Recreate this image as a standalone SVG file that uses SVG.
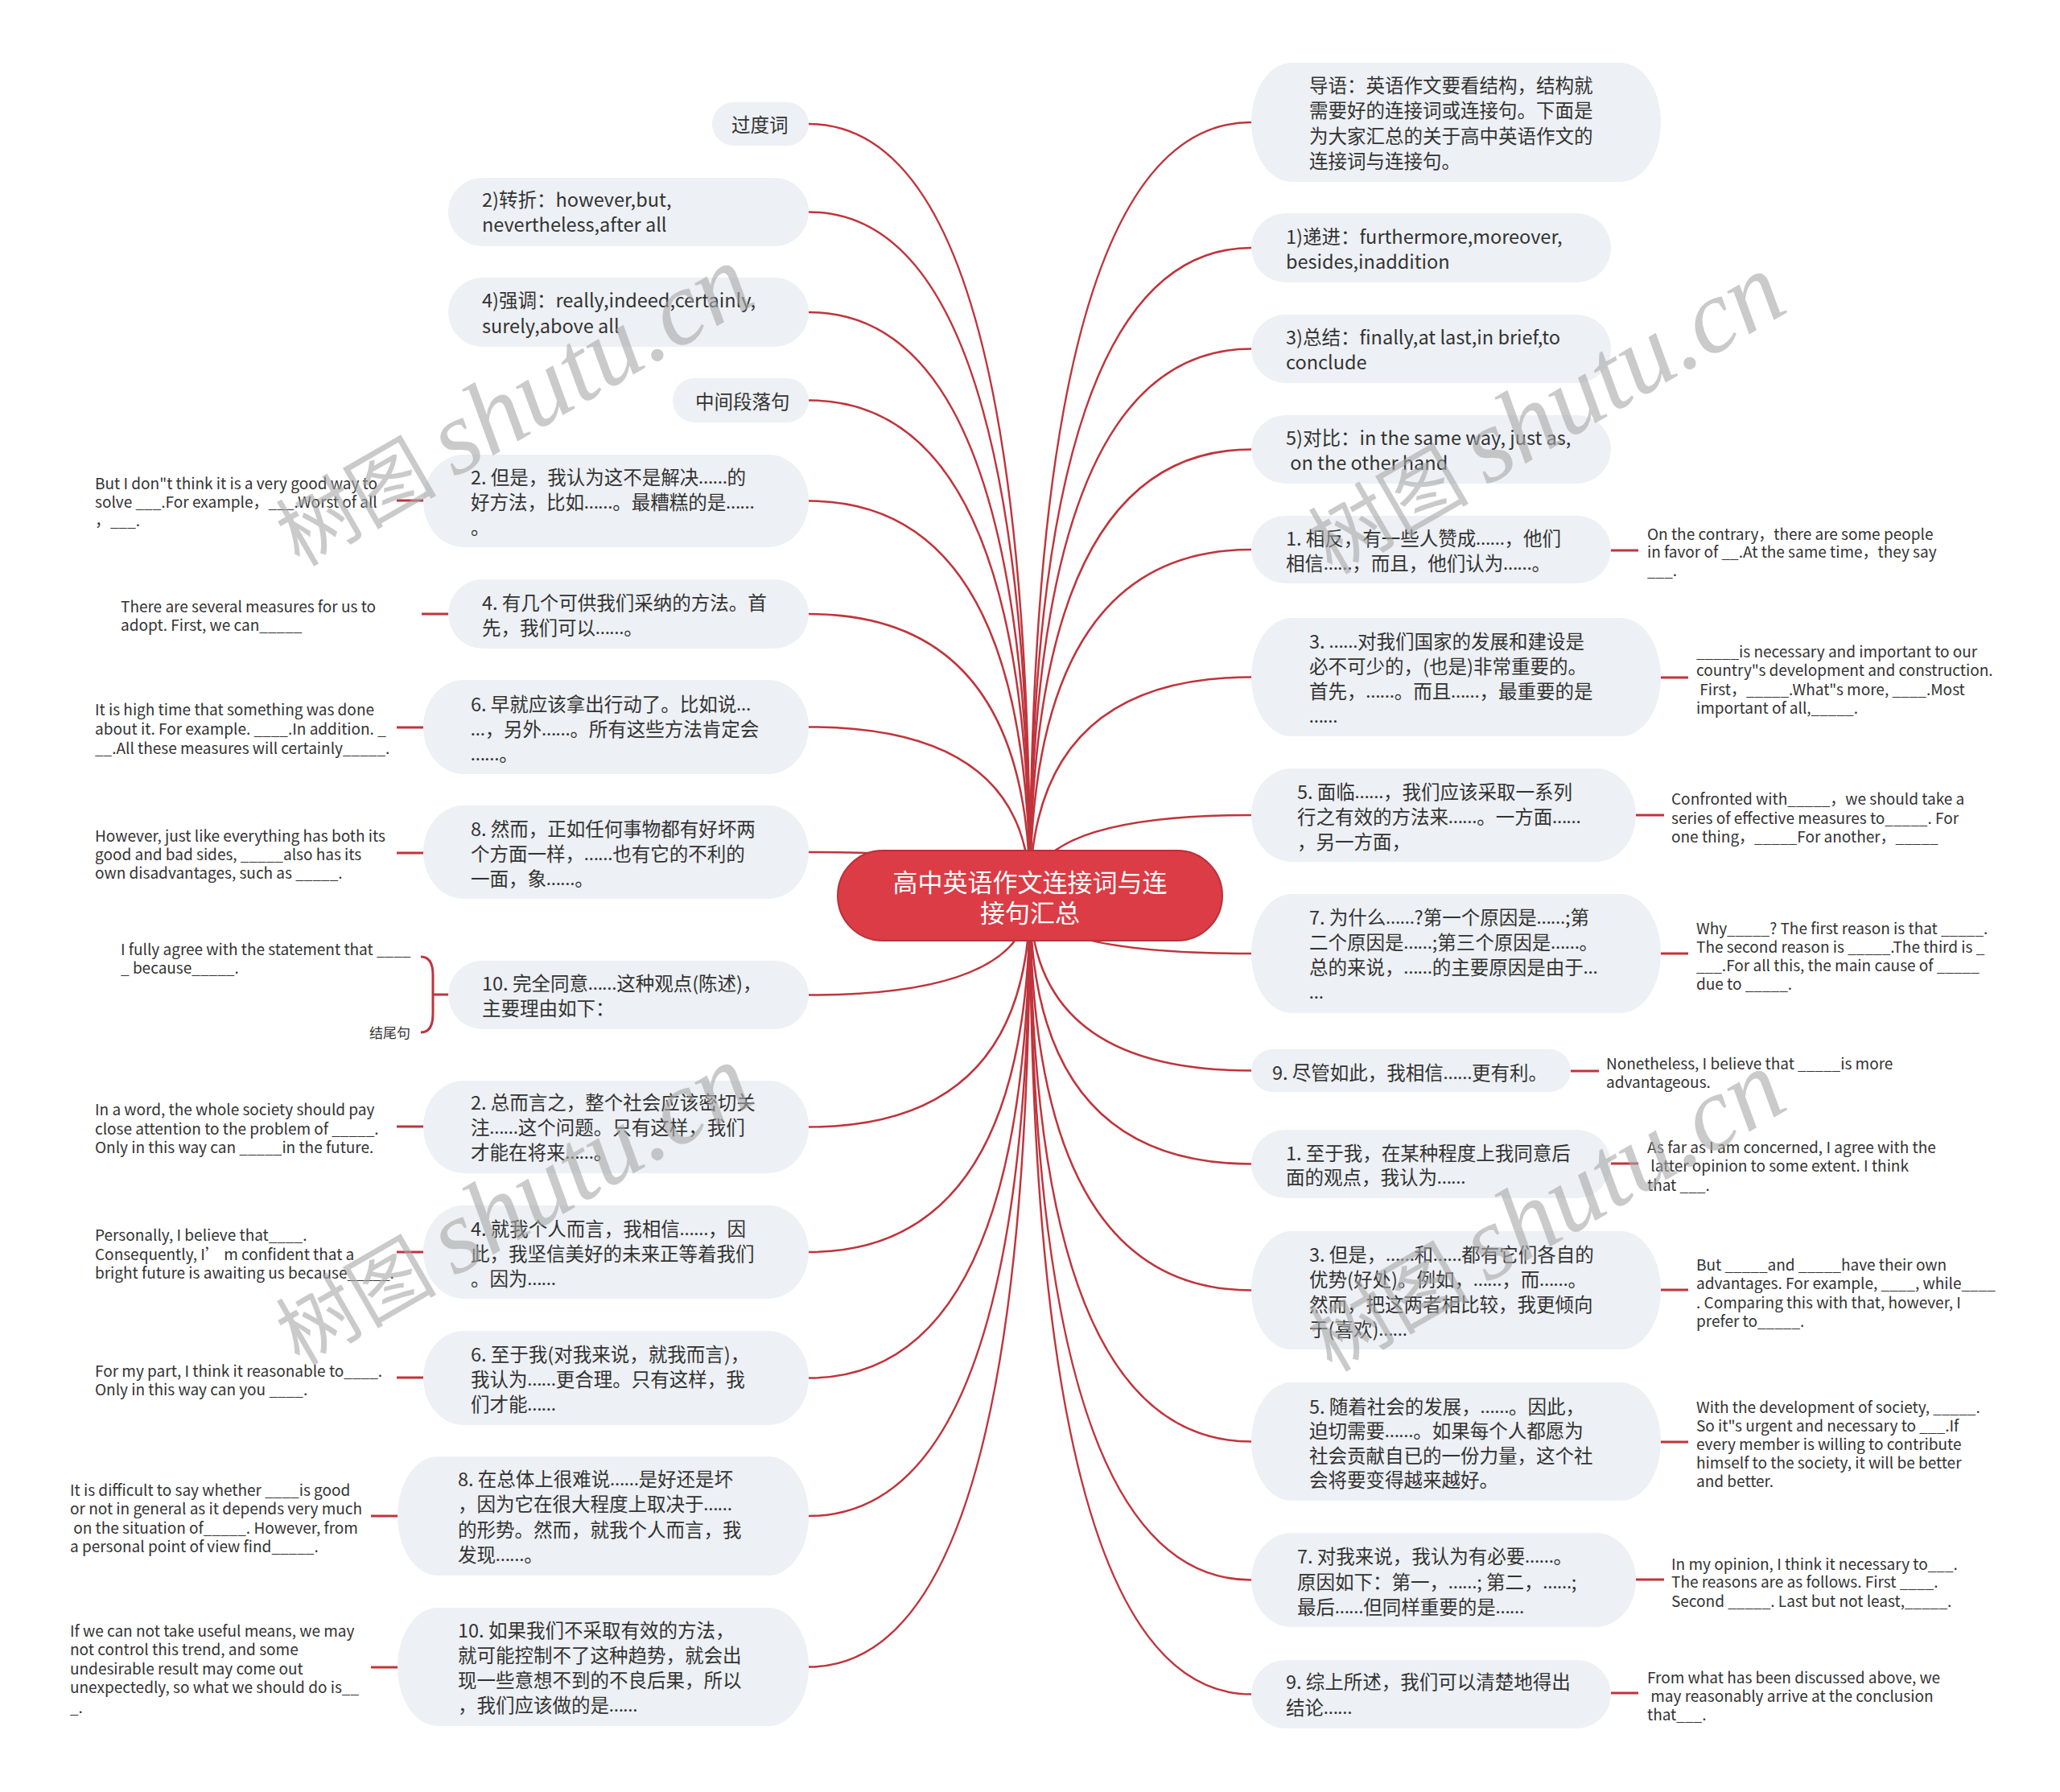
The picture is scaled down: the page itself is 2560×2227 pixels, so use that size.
<svg xmlns="http://www.w3.org/2000/svg" width="2560" height="2227" viewBox="0 0 2560 2227">
<style>
.n{fill:#edf0f4}
.t{font-family:"Noto Sans CJK SC","Noto Sans",sans-serif;font-size:23.5px;fill:#333;dominant-baseline:central}
.e{font-family:Lato,"Noto Sans",sans-serif}
.lf{font-family:"Noto Sans CJK SC","Noto Sans",sans-serif;font-size:19px;fill:#333;dominant-baseline:central}
.c{fill:none;stroke:#c0343c;stroke-width:2.5}
.lc{fill:none;stroke:#c0343c;stroke-width:3}
.rt{font-family:"Noto Sans CJK SC","Noto Sans",sans-serif;font-size:31px;fill:#fff;text-anchor:middle;dominant-baseline:central}
.wm{fill:#a8a8a8;opacity:0.6}
.wc{font-family:"Noto Sans CJK SC",sans-serif;font-size:100px}
.we{font-family:"Liberation Serif",serif;font-style:italic;font-size:130px}
</style>
<rect width="2560" height="2227" fill="#fff"/>
<g id="connectors">
<path class="c" d="M1280,1113 Q1280,154 1005,154"/>
<path class="c" d="M1280,1113 Q1280,263.5 1005,263.5"/>
<path class="c" d="M1280,1113 Q1280,388 1005,388"/>
<path class="c" d="M1280,1113 Q1280,497.5 1005,497.5"/>
<path class="c" d="M1280,1113 Q1280,622.5 1005,622.5"/>
<path class="c" d="M1280,1113 Q1280,763 1005,763"/>
<path class="c" d="M1280,1113 Q1280,903.5 1005,903.5"/>
<path class="c" d="M1280,1113 Q1280,1059 1005,1059"/>
<path class="c" d="M1280,1113 Q1280,1236.5 1005,1236.5"/>
<path class="c" d="M1280,1113 Q1280,1400.5 1005,1400.5"/>
<path class="c" d="M1280,1113 Q1280,1556 1005,1556"/>
<path class="c" d="M1280,1113 Q1280,1712.5 1005,1712.5"/>
<path class="c" d="M1280,1113 Q1280,1884 1005,1884"/>
<path class="c" d="M1280,1113 Q1280,2071.5 1005,2071.5"/>
<path class="c" d="M1280,1113 Q1280,152 1555,152"/>
<path class="c" d="M1280,1113 Q1280,308 1555,308"/>
<path class="c" d="M1280,1113 Q1280,433.5 1555,433.5"/>
<path class="c" d="M1280,1113 Q1280,558.5 1555,558.5"/>
<path class="c" d="M1280,1113 Q1280,683 1555,683"/>
<path class="c" d="M1280,1113 Q1280,841.5 1555,841.5"/>
<path class="c" d="M1280,1113 Q1280,1013 1555,1013"/>
<path class="c" d="M1280,1113 Q1280,1185 1555,1185"/>
<path class="c" d="M1280,1113 Q1280,1330.5 1555,1330.5"/>
<path class="c" d="M1280,1113 Q1280,1446.5 1555,1446.5"/>
<path class="c" d="M1280,1113 Q1280,1603.5 1555,1603.5"/>
<path class="c" d="M1280,1113 Q1280,1791.5 1555,1791.5"/>
<path class="c" d="M1280,1113 Q1280,1963.5 1555,1963.5"/>
<path class="c" d="M1280,1113 Q1280,2105.5 1555,2105.5"/>
<path class="lc" d="M526,622 H493"/>
<path class="lc" d="M557,763 H524"/>
<path class="lc" d="M526,904 H493"/>
<path class="lc" d="M526,1060 H493"/>
<path class="lc" d="M557,1236 H538"/>
<path class="lc" d="M523,1189 Q538,1189 538,1212 L538,1260 Q538,1283 523,1283"/>
<path class="lc" d="M526,1400 H493"/>
<path class="lc" d="M526,1556 H493"/>
<path class="lc" d="M526,1712 H493"/>
<path class="lc" d="M494,1884 H461"/>
<path class="lc" d="M494,2072 H461"/>
<path class="lc" d="M2002,684 H2036"/>
<path class="lc" d="M2064,842 H2098"/>
<path class="lc" d="M2033,1013 H2068"/>
<path class="lc" d="M2064,1185 H2098"/>
<path class="lc" d="M1952,1331 H1987"/>
<path class="lc" d="M2002,1446 H2036"/>
<path class="lc" d="M2064,1603 H2098"/>
<path class="lc" d="M2064,1792 H2098"/>
<path class="lc" d="M2033,1963 H2068"/>
<path class="lc" d="M2002,2104 H2036"/>
</g>
<g id="root">
<rect x="1041" y="1057" width="478" height="112" rx="56" fill="#dc3c45" stroke="#b8313a" stroke-width="2"/>
<text class="rt"><tspan x="1280" y="1094">高中英语作文连接词与连</tspan><tspan x="1280" y="1132">接句汇总</tspan></text>
</g>
<g id="L1"><rect class="n" x="885" y="127" width="120" height="54" rx="27"/><text class="t"><tspan x="909" y="154">过度词</tspan></text></g>
<g id="L2"><rect class="n" x="557" y="221" width="448" height="85" rx="42.5"/><text class="t"><tspan x="599" y="247">2)转折：however,but,</tspan><tspan x="599" y="278">nevertheless,after all</tspan></text></g>
<g id="L3"><rect class="n" x="557" y="345" width="448" height="86" rx="43"/><text class="t"><tspan x="599" y="372">4)强调：really,indeed,certainly,</tspan><tspan x="599" y="404">surely,above all</tspan></text></g>
<g id="L4"><rect class="n" x="836" y="470" width="169" height="55" rx="27.5"/><text class="t"><tspan x="864" y="498">中间段落句</tspan></text></g>
<g id="L5"><rect class="n" x="526" y="565" width="479" height="115" rx="50" ry="57.5"/><text class="t"><tspan x="585" y="592">2. 但是，我认为这不是解决<tspan class="e">……</tspan>的</tspan><tspan x="585" y="623">好方法，比如<tspan class="e">……</tspan>。最糟糕的是<tspan class="e">……</tspan></tspan><tspan x="585" y="654">。</tspan></text></g>
<g id="L5c"><text class="lf"><tspan x="118" y="599">But I don"t think it is a very good way to</tspan><tspan x="118" y="622">solve ___.For example，___.Worst of all</tspan><tspan x="118" y="645">，___.</tspan></text></g>
<g id="L6"><rect class="n" x="557" y="720" width="448" height="86" rx="43"/><text class="t"><tspan x="599" y="748">4. 有几个可供我们采纳的方法。首</tspan><tspan x="599" y="779">先，我们可以<tspan class="e">……</tspan>。</tspan></text></g>
<g id="L6c"><text class="lf"><tspan x="150" y="752">There are several measures for us to</tspan><tspan x="150" y="775">adopt. First, we can_____</tspan></text></g>
<g id="L7"><rect class="n" x="526" y="845" width="479" height="117" rx="50" ry="58.5"/><text class="t"><tspan x="585" y="874">6. 早就应该拿出行动了。比如说<tspan class="e">…</tspan></tspan><tspan x="585" y="905"><tspan class="e">…</tspan>，另外<tspan class="e">……</tspan>。所有这些方法肯定会</tspan><tspan x="585" y="936"><tspan class="e">……</tspan>。</tspan></text></g>
<g id="L7c"><text class="lf"><tspan x="118" y="880">It is high time that something was done</tspan><tspan x="118" y="904">about it. For example. ____.In addition. _</tspan><tspan x="118" y="928">__.All these measures will certainly_____.</tspan></text></g>
<g id="L8"><rect class="n" x="526" y="1001" width="479" height="116" rx="50" ry="58"/><text class="t"><tspan x="585" y="1029">8. 然而，正如任何事物都有好坏两</tspan><tspan x="585" y="1060">个方面一样，<tspan class="e">……</tspan>也有它的不利的</tspan><tspan x="585" y="1091">一面，象<tspan class="e">……</tspan>。</tspan></text></g>
<g id="L8c"><text class="lf"><tspan x="118" y="1037">However, just like everything has both its</tspan><tspan x="118" y="1060">good and bad sides, _____also has its</tspan><tspan x="118" y="1083">own disadvantages, such as _____.</tspan></text></g>
<g id="L9"><rect class="n" x="557" y="1194" width="448" height="85" rx="42.5"/><text class="t"><tspan x="599" y="1221">10. 完全同意<tspan class="e">……</tspan>这种观点(陈述)，</tspan><tspan x="599" y="1252">主要理由如下：</tspan></text></g>
<g id="L9c"><text class="lf"><tspan x="150" y="1178">I fully agree with the statement that ____</tspan><tspan x="150" y="1201">_ because_____.</tspan></text><text class="lf" style="font-size:17px"><tspan x="459" y="1282">结尾句</tspan></text></g>
<g id="L10"><rect class="n" x="526" y="1343" width="479" height="115" rx="50" ry="57.5"/><text class="t"><tspan x="585" y="1369">2. 总而言之，整个社会应该密切关</tspan><tspan x="585" y="1400">注<tspan class="e">……</tspan>这个问题。只有这样，我们</tspan><tspan x="585" y="1431">才能在将来<tspan class="e">……</tspan>。</tspan></text></g>
<g id="L10c"><text class="lf"><tspan x="118" y="1377">In a word, the whole society should pay</tspan><tspan x="118" y="1401">close attention to the problem of _____.</tspan><tspan x="118" y="1424">Only in this way can _____in the future.</tspan></text></g>
<g id="L11"><rect class="n" x="526" y="1498" width="479" height="116" rx="50" ry="58"/><text class="t"><tspan x="585" y="1526">4. 就我个人而言，我相信<tspan class="e">……</tspan>，因</tspan><tspan x="585" y="1557">此，我坚信美好的未来正等着我们</tspan><tspan x="585" y="1588">。因为<tspan class="e">……</tspan></tspan></text></g>
<g id="L11c"><text class="lf"><tspan x="118" y="1533">Personally, I believe that____.</tspan><tspan x="118" y="1557">Consequently, I’ m confident that a</tspan><tspan x="118" y="1580">bright future is awaiting us because_____.</tspan></text></g>
<g id="L12"><rect class="n" x="526" y="1654" width="479" height="117" rx="50" ry="58.5"/><text class="t"><tspan x="585" y="1682">6. 至于我(对我来说，就我而言)，</tspan><tspan x="585" y="1713">我认为<tspan class="e">……</tspan>更合理。只有这样，我</tspan><tspan x="585" y="1744">们才能<tspan class="e">……</tspan></tspan></text></g>
<g id="L12c"><text class="lf"><tspan x="118" y="1702">For my part, I think it reasonable to____.</tspan><tspan x="118" y="1725">Only in this way can you ____.</tspan></text></g>
<g id="L13"><rect class="n" x="494" y="1810" width="511" height="148" rx="50" ry="74"/><text class="t"><tspan x="569" y="1837">8. 在总体上很难说<tspan class="e">……</tspan>是好还是坏</tspan><tspan x="569" y="1868">，因为它在很大程度上取决于<tspan class="e">……</tspan></tspan><tspan x="569" y="1900">的形势。然而，就我个人而言，我</tspan><tspan x="569" y="1931">发现<tspan class="e">……</tspan>。</tspan></text></g>
<g id="L13c"><text class="lf"><tspan x="87" y="1850">It is difficult to say whether ____is good</tspan><tspan x="87" y="1873">or not in general as it depends very much</tspan><tspan x="87" y="1897">&#160;on the situation of_____. However, from</tspan><tspan x="87" y="1920">a personal point of view find_____.</tspan></text></g>
<g id="L14"><rect class="n" x="494" y="1998" width="511" height="147" rx="50" ry="73.5"/><text class="t"><tspan x="569" y="2025">10. 如果我们不采取有效的方法，</tspan><tspan x="569" y="2056">就可能控制不了这种趋势，就会出</tspan><tspan x="569" y="2087">现一些意想不到的不良后果，所以</tspan><tspan x="569" y="2118">，我们应该做的是<tspan class="e">……</tspan></tspan></text></g>
<g id="L14c"><text class="lf"><tspan x="87" y="2025">If we can not take useful means, we may</tspan><tspan x="87" y="2048">not control this trend, and some</tspan><tspan x="87" y="2072">undesirable result may come out</tspan><tspan x="87" y="2095">unexpectedly, so what we should do is__</tspan><tspan x="87" y="2120">_.</tspan></text></g>
<g id="R1"><rect class="n" x="1555" y="78" width="509" height="148" rx="50" ry="74"/><text class="t"><tspan x="1627" y="105">导语：英语作文要看结构，结构就</tspan><tspan x="1627" y="136">需要好的连接词或连接句。下面是</tspan><tspan x="1627" y="168">为大家汇总的关于高中英语作文的</tspan><tspan x="1627" y="199">连接词与连接句。</tspan></text></g>
<g id="R2"><rect class="n" x="1555" y="265" width="447" height="86" rx="43"/><text class="t"><tspan x="1598" y="293">1)递进：furthermore,moreover,</tspan><tspan x="1598" y="324">besides,inaddition</tspan></text></g>
<g id="R3"><rect class="n" x="1555" y="391" width="447" height="85" rx="42.5"/><text class="t"><tspan x="1598" y="418">3)总结：finally,at last,in brief,to</tspan><tspan x="1598" y="449">conclude</tspan></text></g>
<g id="R4"><rect class="n" x="1555" y="516" width="447" height="85" rx="42.5"/><text class="t"><tspan x="1598" y="543">5)对比：in the same way, just as,</tspan><tspan x="1598" y="574">&#160;on the other hand</tspan></text></g>
<g id="R5"><rect class="n" x="1555" y="641" width="447" height="84" rx="42"/><text class="t"><tspan x="1598" y="668">1. 相反，有一些人赞成<tspan class="e">……</tspan>，他们</tspan><tspan x="1598" y="699">相信<tspan class="e">……</tspan>，而且，他们认为<tspan class="e">……</tspan>。</tspan></text></g>
<g id="R5c"><text class="lf"><tspan x="2047" y="662">On the contrary，there are some people</tspan><tspan x="2047" y="684">in favor of __.At the same time，they say</tspan><tspan x="2047" y="707">___.</tspan></text></g>
<g id="R6"><rect class="n" x="1555" y="768" width="509" height="147" rx="50" ry="73.5"/><text class="t"><tspan x="1627" y="796">3. <tspan class="e">……</tspan>对我们国家的发展和建设是</tspan><tspan x="1627" y="827">必不可少的，(也是)非常重要的。</tspan><tspan x="1627" y="858">首先，<tspan class="e">……</tspan>。而且<tspan class="e">……</tspan>，最重要的是</tspan><tspan x="1627" y="889"><tspan class="e">……</tspan></tspan></text></g>
<g id="R6c"><text class="lf"><tspan x="2108" y="808">_____is necessary and important to our</tspan><tspan x="2108" y="831">country"s development and construction.</tspan><tspan x="2108" y="855">&#160;First，_____.What"s more, ____.Most</tspan><tspan x="2108" y="878">important of all,_____.</tspan></text></g>
<g id="R7"><rect class="n" x="1555" y="955" width="478" height="116" rx="50" ry="58"/><text class="t"><tspan x="1612" y="983">5. 面临<tspan class="e">……</tspan>，我们应该采取一系列</tspan><tspan x="1612" y="1014">行之有效的方法来<tspan class="e">……</tspan>。一方面<tspan class="e">……</tspan></tspan><tspan x="1612" y="1045">，另一方面，</tspan></text></g>
<g id="R7c"><text class="lf"><tspan x="2077" y="991">Confronted with_____，we should take a</tspan><tspan x="2077" y="1015">series of effective measures to_____. For</tspan><tspan x="2077" y="1038">one thing，_____For another，_____</tspan></text></g>
<g id="R8"><rect class="n" x="1555" y="1111" width="509" height="148" rx="50" ry="74"/><text class="t"><tspan x="1627" y="1139">7. 为什么<tspan class="e">……</tspan>?第一个原因是<tspan class="e">……</tspan>;第</tspan><tspan x="1627" y="1170">二个原因是<tspan class="e">……</tspan>;第三个原因是<tspan class="e">……</tspan>。</tspan><tspan x="1627" y="1201">总的来说，<tspan class="e">……</tspan>的主要原因是由于<tspan class="e">…</tspan></tspan><tspan x="1627" y="1232"><tspan class="e">…</tspan></tspan></text></g>
<g id="R8c"><text class="lf"><tspan x="2108" y="1152">Why_____? The first reason is that _____.</tspan><tspan x="2108" y="1175">The second reason is _____.The third is _</tspan><tspan x="2108" y="1198">___.For all this, the main cause of _____</tspan><tspan x="2108" y="1221">due to _____.</tspan></text></g>
<g id="R9"><rect class="n" x="1555" y="1304" width="397" height="53" rx="26.5"/><text class="t"><tspan x="1581" y="1332">9. 尽管如此，我相信<tspan class="e">……</tspan>更有利。</tspan></text></g>
<g id="R9c"><text class="lf"><tspan x="1996" y="1320">Nonetheless, I believe that _____is more</tspan><tspan x="1996" y="1343">advantageous.</tspan></text></g>
<g id="R10"><rect class="n" x="1555" y="1404" width="447" height="85" rx="42.5"/><text class="t"><tspan x="1598" y="1432">1. 至于我，在某种程度上我同意后</tspan><tspan x="1598" y="1462">面的观点，我认为<tspan class="e">……</tspan></tspan></text></g>
<g id="R10c"><text class="lf"><tspan x="2047" y="1424">As far as I am concerned, I agree with the</tspan><tspan x="2047" y="1447">&#160;latter opinion to some extent. I think</tspan><tspan x="2047" y="1471">that ___.</tspan></text></g>
<g id="R11"><rect class="n" x="1555" y="1530" width="509" height="147" rx="50" ry="73.5"/><text class="t"><tspan x="1627" y="1558">3. 但是，<tspan class="e">……</tspan>和<tspan class="e">……</tspan>都有它们各自的</tspan><tspan x="1627" y="1589">优势(好处)。例如，<tspan class="e">……</tspan>，而<tspan class="e">……</tspan>。</tspan><tspan x="1627" y="1620">然而，把这两者相比较，我更倾向</tspan><tspan x="1627" y="1651">于(喜欢)<tspan class="e">……</tspan></tspan></text></g>
<g id="R11c"><text class="lf"><tspan x="2108" y="1570">But _____and _____have their own</tspan><tspan x="2108" y="1593">advantages. For example, ____, while____</tspan><tspan x="2108" y="1617">. Comparing this with that, however, I</tspan><tspan x="2108" y="1640">prefer to_____.</tspan></text></g>
<g id="R12"><rect class="n" x="1555" y="1718" width="509" height="147" rx="50" ry="73.5"/><text class="t"><tspan x="1627" y="1747">5. 随着社会的发展，<tspan class="e">……</tspan>。因此，</tspan><tspan x="1627" y="1777">迫切需要<tspan class="e">……</tspan>。如果每个人都愿为</tspan><tspan x="1627" y="1808">社会贡献自已的一份力量，这个社</tspan><tspan x="1627" y="1838">会将要变得越来越好。</tspan></text></g>
<g id="R12c"><text class="lf"><tspan x="2108" y="1747">With the development of society, _____.</tspan><tspan x="2108" y="1770">So it"s urgent and necessary to ___.If</tspan><tspan x="2108" y="1793">every member is willing to contribute</tspan><tspan x="2108" y="1816">himself to the society, it will be better</tspan><tspan x="2108" y="1839">and better.</tspan></text></g>
<g id="R13"><rect class="n" x="1555" y="1905" width="478" height="117" rx="50" ry="58.5"/><text class="t"><tspan x="1612" y="1933">7. 对我来说，我认为有必要<tspan class="e">……</tspan>。</tspan><tspan x="1612" y="1965">原因如下：第一，<tspan class="e">……</tspan>; 第二，<tspan class="e">……</tspan>;</tspan><tspan x="1612" y="1996">最后<tspan class="e">……</tspan>但同样重要的是<tspan class="e">……</tspan></tspan></text></g>
<g id="R13c"><text class="lf"><tspan x="2077" y="1942">In my opinion, I think it necessary to___.</tspan><tspan x="2077" y="1964">The reasons are as follows. First ____.</tspan><tspan x="2077" y="1988">Second _____. Last but not least,_____.</tspan></text></g>
<g id="R14"><rect class="n" x="1555" y="2063" width="447" height="85" rx="42.5"/><text class="t"><tspan x="1598" y="2089">9. 综上所述，我们可以清楚地得出</tspan><tspan x="1598" y="2121">结论<tspan class="e">……</tspan></tspan></text></g>
<g id="R14c"><text class="lf"><tspan x="2047" y="2083">From what has been discussed above, we</tspan><tspan x="2047" y="2106">&#160;may reasonably arrive at the conclusion</tspan><tspan x="2047" y="2129">that___.</tspan></text></g>
<g id="watermarks">
<text class="wm" transform="translate(372,705) rotate(-30)"><tspan class="wc">树图 </tspan><tspan class="we">shutu.cn</tspan></text>
<text class="wm" transform="translate(1655,715) rotate(-30)"><tspan class="wc">树图 </tspan><tspan class="we">shutu.cn</tspan></text>
<text class="wm" transform="translate(372,1698) rotate(-30)"><tspan class="wc">树图 </tspan><tspan class="we">shutu.cn</tspan></text>
<text class="wm" transform="translate(1655,1706) rotate(-30)"><tspan class="wc">树图 </tspan><tspan class="we">shutu.cn</tspan></text>
</g>
</svg>
